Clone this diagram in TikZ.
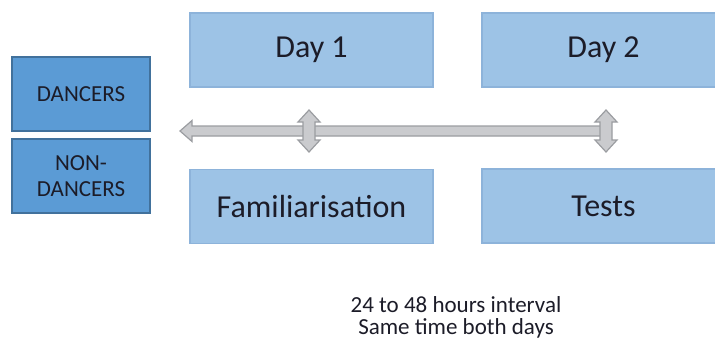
\documentclass[tikz,border=0pt]{standalone}
\usepackage{fontspec}
\setmainfont{Carlito}
\usetikzlibrary{arrows.meta}

\definecolor{daybox}{HTML}{9DC3E6}
\definecolor{dayline}{HTML}{8DB3DA}
\definecolor{groupbox}{HTML}{5B9BD5}
\definecolor{groupline}{HTML}{41719C}
\definecolor{arrowfill}{HTML}{CACBCE}
\definecolor{arrowline}{HTML}{9B9DA1}
\definecolor{ink}{HTML}{1C1C28}

\tikzset{
  daynode/.style={draw=dayline, fill=daybox, line width=0.6pt, minimum width=121.5pt, minimum height=37pt, text=ink, font=\fontsize{16}{19}\selectfont},
  groupnode/.style={draw=groupline, fill=groupbox, line width=0.6pt, minimum width=69pt, minimum height=37pt, text=ink, align=center, font=\fontsize{11.5}{13}\selectfont},
  blockarrow/.style={draw=arrowline, fill=arrowfill, line width=0.6pt, line join=miter}
}

\begin{document}
\begin{tikzpicture}[x=0.5pt, y=-0.5pt]

\def\shaft{5}
\def\headw{10.5}
\def\headl{12}
\def\liney{131}
\def\tipx{180}
\def\endx{606}

\useasboundingbox (0,0) rectangle (715,349);

% groups
\node[groupnode] (dancers) at (81,94) {DANCERS};
\node[groupnode] (nondancers) at (81,176) {NON-\\DANCERS};

% days
\node[daynode] (day1) at (311.5,50) {Day 1};
\node[daynode] (day2) at (603.5,50) {Day 2};
\node[daynode] (famil) at (311.5,206.5) {Familiarisation};
\node[daynode] (tests) at (603.5,206) {Tests};

% time line
\draw[blockarrow] (\tipx,\liney) -- ({\tipx+\headl},{\liney-\headw}) -- ({\tipx+\headl},{\liney-\shaft}) -- (\endx,{\liney-\shaft}) -- (\endx,{\liney+\shaft}) -- ({\tipx+\headl},{\liney+\shaft}) -- ({\tipx+\headl},{\liney+\headw}) -- cycle;

\foreach \xc in {309,606}{
  \draw[blockarrow] (\xc,110) -- ++(11,\headl) -- ++(-5,0) -- ++(0,18) -- ++(5,0) -- (\xc,152) -- ++(-11,-\headl) -- ++(5,0) -- ++(0,-18) -- ++(-5,0) -- cycle;
}

\node[align=center, text=ink, font=\fontsize{11.5}{11}\selectfont] (note) at (456,317) {24 to 48 hours interval\\Same time both days};

\end{tikzpicture}
\end{document}
